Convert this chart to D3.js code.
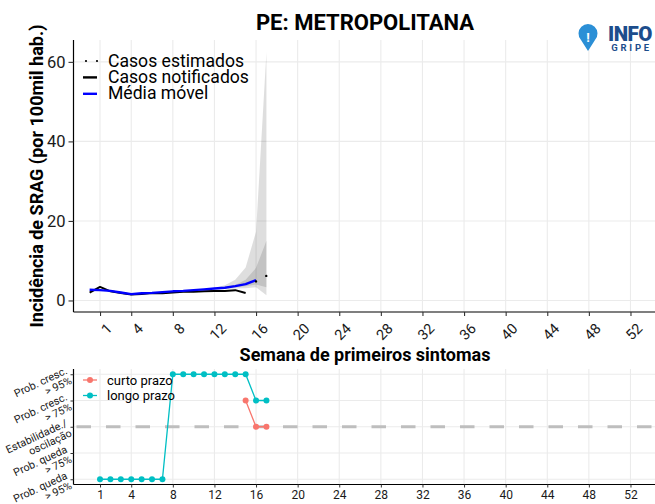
<!DOCTYPE html>
<html><head><meta charset="utf-8">
<script src="https://cdn.jsdelivr.net/npm/d3@7"></script>
<style>
body{margin:0;background:#fff;}
svg{display:block;font-family:Roboto,"Noto Sans",Arial,sans-serif;}
</style></head>
<body><svg id="c" width="655" height="504"></svg>
<script>
// ---------- data ----------
const title = "PE: METROPOLITANA";
const yTitle = "Incidência de SRAG (por 100mil hab.)";
const xTitle = "Semana de primeiros sintomas";
const weekTicks = [1,4,8,12,16,20,24,28,32,36,40,44,48,52];
const incTicks = [0,20,40,60];

const notifiedWeeks = [0,1,2,3,4,5,6,7,8,9,10,11,12,13,14,15];
const notified = [2.0,3.4,2.3,1.9,1.5,1.6,1.9,1.8,2.0,2.2,2.2,2.3,2.4,2.4,2.6,1.9];

const avgWeeks = [0,1,2,3,4,5,6,7,8,9,10,11,12,13,14,15,16];
const movingAvg = [2.7,2.6,2.4,2.0,1.6,1.8,1.9,2.1,2.3,2.4,2.6,2.8,3.0,3.2,3.6,4.1,5.1];

const estWeeks = [16,17];
const estimated = [4.8,6.2];

const ribWeeks = [11,12,13,14,15,16,17];
const ci95Lo = [2.7,2.8,2.9,3.0,3.1,3.3,1.3];
const ci95Hi = [2.8,3.2,3.8,5.2,8.3,17.3,62.5];
const ci50Lo = [2.75,2.9,3.1,3.3,3.6,4.0,3.3];
const ci50Hi = [2.8,3.0,3.3,3.9,5.2,8.2,15.0];

const trendLevels = [2,1,0,-1,-2];
const trendLabels = [["Prob. cresc.","> 95%"],["Prob. cresc.","> 75%"],["Estabilidade./","oscilação"],["Prob. queda","> 75%"],["Prob. queda","> 95%"]];
const shortWeeks = [15,16,17];
const shortTrend = [1,0,0];
const longWeeks = [1,2,3,4,5,6,7,8,9,10,11,12,13,14,15,16,17];
const longTrend = [-2,-2,-2,-2,-2,-2,-2,2,2,2,2,2,2,2,2,1,1];

// ---------- layout ----------
const svg = d3.select("#c");
const L = 73.5, R = 657;
const x = d3.scaleLinear().domain([-1.55,54.55]).range([L,R]);
const yU = d3.scaleLinear().domain([-2.9,65.5]).range([312,40]);
const yL = d3.scaleLinear().domain([-2.2,2.2]).range([484.5,369]);
const grid = "#ebebeb";
const txt = "#1a1a1a";

// ---------- upper panel ----------
const up = svg.append("g");
up.append("g").selectAll("line").data(incTicks).join("line")
  .attr("x1",L).attr("x2",R).attr("y1",d=>yU(d)).attr("y2",d=>yU(d))
  .attr("stroke",grid).attr("stroke-width",1.1);
up.append("g").selectAll("line").data(weekTicks).join("line")
  .attr("x1",d=>x(d)).attr("x2",d=>x(d)).attr("y1",40).attr("y2",312)
  .attr("stroke",grid).attr("stroke-width",1.1);

const area = (lo,hi)=>d3.area().x((d,i)=>x(ribWeeks[i])).y0((d,i)=>yU(lo[i])).y1((d,i)=>yU(hi[i]));
up.append("path").datum(ribWeeks).attr("d",area(ci95Lo,ci95Hi)).attr("fill","rgba(0,0,0,0.13)");
up.append("path").datum(ribWeeks).attr("d",area(ci50Lo,ci50Hi)).attr("fill","rgba(0,0,0,0.12)");

const line = (ws,vs)=>d3.line().x((d,i)=>x(ws[i])).y((d,i)=>yU(vs[i]))(vs);
up.append("path").attr("d",line(notifiedWeeks,notified)).attr("fill","none")
  .attr("stroke","#000").attr("stroke-width",2).attr("stroke-linejoin","round");
up.append("path").attr("d",line(avgWeeks,movingAvg)).attr("fill","none")
  .attr("stroke","#0000ff").attr("stroke-width",2.4).attr("stroke-linejoin","round");
up.append("path").attr("d",line(estWeeks,estimated)).attr("fill","none")
  .attr("stroke","#000").attr("stroke-width",2.4).attr("stroke-linecap","round")
  .attr("stroke-dasharray","0 11.6");

const yAx = up.append("g").attr("transform",`translate(${L},0)`)
  .call(d3.axisLeft(yU).tickValues(incTicks).tickSize(5).tickPadding(3));
yAx.select(".domain").attr("d",`M0,40V312`).attr("stroke","#000").attr("stroke-width",1.2);
yAx.selectAll(".tick line").attr("stroke","#333").attr("stroke-width",1.1);
yAx.selectAll(".tick text").attr("font-size",16.5).attr("fill",txt).attr("font-family","Roboto");

const xAx = up.append("g").attr("transform","translate(0,312)")
  .call(d3.axisBottom(x).tickValues(weekTicks).tickSize(4));
xAx.select(".domain").attr("d",`M${L},0H${R}`).attr("stroke","#000").attr("stroke-width",1.2);
xAx.selectAll(".tick line").attr("stroke","#333").attr("stroke-width",1.1);
xAx.selectAll(".tick text").attr("font-size",14.5).attr("fill",txt).attr("font-family","Roboto")
  .attr("text-anchor","end").attr("y",0).attr("transform","translate(5,10) rotate(-45)")
  .attr("dy","0.72em");

// titles
svg.append("text").attr("x",365).attr("y",30).attr("text-anchor","middle")
  .attr("font-size",22).attr("font-weight","bold").attr("fill","#000").text(title);
svg.append("text").attr("transform","translate(43,176) rotate(-90)").attr("text-anchor","middle")
  .attr("font-size",18).attr("font-weight","bold").attr("fill","#000").text(yTitle);
svg.append("text").attr("x",365).attr("y",361).attr("text-anchor","middle")
  .attr("font-size",18).attr("font-weight","bold").attr("fill","#000").text(xTitle);

// legend upper
const lg = svg.append("g");
const legItems = [["Casos estimados","dot"],["Casos notificados","#000"],["Média móvel","#0000ff"]];
legItems.forEach((it,i)=>{
  const cy = 61 + i*16.4;
  if(it[1]==="dot"){
    lg.append("line").attr("x1",86).attr("x2",98).attr("y1",cy).attr("y2",cy)
      .attr("stroke","#000").attr("stroke-width",2.2).attr("stroke-linecap","round").attr("stroke-dasharray","0 11");
  } else {
    lg.append("line").attr("x1",83).attr("x2",97).attr("y1",cy).attr("y2",cy)
      .attr("stroke",it[1]).attr("stroke-width",2.4);
  }
  lg.append("text").attr("x",108).attr("y",cy+5.5).attr("font-size",17.6).attr("fill","#000").text(it[0]);
});

// logo
const logo = svg.append("g");
logo.append("path").attr("d","M588,51 L581,40 A9.5,9.5 0 1 1 595,40 Z").attr("fill","#2b8fd6");
logo.append("text").attr("x",588).attr("y",42).attr("text-anchor","middle").attr("font-size",13)
  .attr("font-weight","bold").attr("fill","#fff").text("!");
logo.append("text").attr("x",652).attr("y",40.5).attr("text-anchor","end").attr("font-size",20.5)
  .attr("font-weight","900").attr("fill","#1c4d8c").attr("letter-spacing","-0.5").text("INFO");
logo.append("text").attr("x",652).attr("y",51).attr("text-anchor","end").attr("font-size",9.5)
  .attr("font-weight","bold").attr("fill","#1c4d8c").attr("letter-spacing","2.8").text("GRIPE");

// ---------- lower panel ----------
const lo = svg.append("g");
lo.append("g").selectAll("line").data(trendLevels).join("line")
  .attr("x1",L).attr("x2",R).attr("y1",d=>yL(d)).attr("y2",d=>yL(d))
  .attr("stroke",grid).attr("stroke-width",1.1);
lo.append("g").selectAll("line").data(weekTicks).join("line")
  .attr("x1",d=>x(d)).attr("x2",d=>x(d)).attr("y1",369).attr("y2",484.5)
  .attr("stroke",grid).attr("stroke-width",1.1);
lo.append("line").attr("x1",L).attr("x2",R).attr("y1",yL(0)).attr("y2",yL(0))
  .attr("stroke","#bebebe").attr("stroke-width",3.2).attr("stroke-dasharray","14.5 15").attr("stroke-dashoffset",-3);

const tl = (ws,vs)=>d3.line().x((d,i)=>x(ws[i])).y((d,i)=>yL(vs[i]))(vs);
const series = [[longWeeks,longTrend,"#00BFC4"],[shortWeeks,shortTrend,"#F8766D"]];
series.forEach(s=>{
  lo.append("path").attr("d",tl(s[0],s[1])).attr("fill","none").attr("stroke",s[2]).attr("stroke-width",1.3);
  lo.append("g").selectAll("circle").data(s[1]).join("circle")
    .attr("cx",(d,i)=>x(s[0][i])).attr("cy",d=>yL(d)).attr("r",3).attr("fill",s[2]);
});

const lyAx = lo.append("g").attr("transform",`translate(${L},0)`)
  .call(d3.axisLeft(yL).tickValues(trendLevels).tickSize(3).tickFormat(""));
lyAx.select(".domain").attr("d",`M0,369V484.5`).attr("stroke","#000").attr("stroke-width",1.2);
lyAx.selectAll(".tick line").attr("stroke","#333");
trendLevels.forEach((lv,i)=>{
  const g = lo.append("g").attr("transform",`translate(68,${yL(lv)-1}) rotate(-25)`);
  g.append("text").attr("x",0).attr("y",0).attr("text-anchor","end").attr("font-size",10.8).attr("fill",txt).text(trendLabels[i][0]);
  g.append("text").attr("x",0).attr("y",11).attr("text-anchor","end").attr("font-size",10.8).attr("fill",txt).text(trendLabels[i][1]);
});

const lxAx = lo.append("g").attr("transform","translate(0,484.5)")
  .call(d3.axisBottom(x).tickValues(weekTicks).tickSize(3).tickPadding(3));
lxAx.select(".domain").attr("d",`M${L},0H${R}`).attr("stroke","#000").attr("stroke-width",1.2);
lxAx.selectAll(".tick line").attr("stroke","#333");
lxAx.selectAll(".tick text").attr("font-size",12).attr("fill",txt).attr("font-family","Roboto");

const ll = [["curto prazo","#F8766D"],["longo prazo","#00BFC4"]];
ll.forEach((it,i)=>{
  const cy = 380 + i*15.5;
  lo.append("line").attr("x1",83).attr("x2",97).attr("y1",cy).attr("y2",cy).attr("stroke",it[1]).attr("stroke-width",1.3);
  lo.append("circle").attr("cx",90).attr("cy",cy).attr("r",3).attr("fill",it[1]);
  lo.append("text").attr("x",107).attr("y",cy+4.5).attr("font-size",13).attr("fill","#000").text(it[0]);
});
</script></body></html>
